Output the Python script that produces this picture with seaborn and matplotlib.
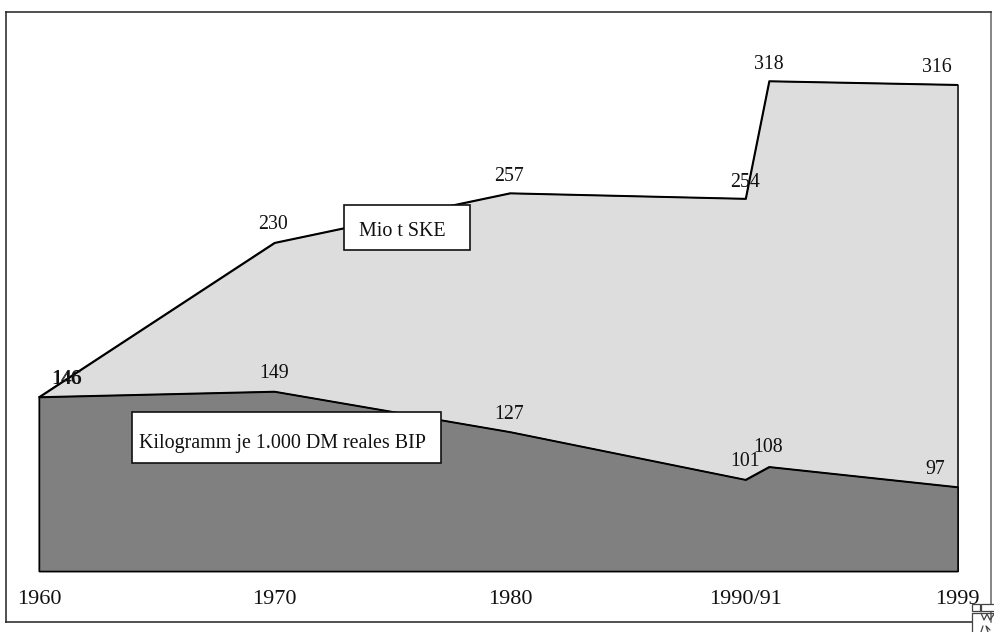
import matplotlib
matplotlib.use('Agg')
import matplotlib.pyplot as plt
from matplotlib.patches import Rectangle
from matplotlib.lines import Line2D
import pandas as pd
import seaborn as sns

years = [1960, 1970, 1980, 1990, 1991, 1999]
mio_t_ske = [146, 230, 257, 254, 318, 316]
kg_je_bip = [146, 149, 127, 101, 108, 97]
tick_years = [1960, 1970, 1980, 1990, 1999]
tick_labels = ['1960', '1970', '1980', '1990/91', '1999']

# label offsets from the point, in pixels
offs_upper = [(27, 18), (-1, 18), (-1, 17), (-1, 16), (0, 17), (-21, 17)]
offs_lower = [(28, 18), (0, 18), (-1, 17), (0, 18), (-1, 19), (-22, 18)]

W, H = 994, 632
BASE = 51.3

sns.set_theme(style='white')
plt.rcParams['font.family'] = ['Liberation Serif']

df = pd.concat([
    pd.DataFrame({'jahr': years, 'wert': mio_t_ske, 'reihe': 'Mio t SKE'}),
    pd.DataFrame({'jahr': years, 'wert': kg_je_bip, 'reihe': 'Kilogramm'}),
])

fig = plt.figure(figsize=(W / 100, H / 100), dpi=100)
ax = fig.add_axes([5.5 / W, 1 - 621.5 / H, 985 / W, 610 / H])


def fx(px):
    return px / W


def fy(py):
    return 1 - py / H


ax.fill_between(years, mio_t_ske, BASE, facecolor='#dddddd', edgecolor='black', linewidth=1.1, zorder=1)
ax.fill_between(years, kg_je_bip, BASE, facecolor='#808080', edgecolor='black', linewidth=1.1, zorder=2)
sns.lineplot(data=df, x='jahr', y='wert', hue='reihe', palette=['black', 'black'],
             linewidth=1.1, legend=False, ax=ax, zorder=3)

ax.set_xlim(1958.58, 2000.40)
ax.set_ylim(23.8, 355.85)
ax.set_xlabel('')
ax.set_ylabel('')
ax.set_yticks([])
ax.set_xticks(tick_years)
ax.set_xticklabels(tick_labels, fontsize=16, color='#111111')
ax.tick_params(axis='x', direction='in', length=0, pad=-22.8)

for s in ax.spines.values():
    s.set_linewidth(1.1)
    s.set_color('#222222')
ax.spines['right'].set_color('#666666')
ax.spines['bottom'].set_bounds(1958.58, 1999.6)

for vals, offs in [(mio_t_ske, offs_upper), (kg_je_bip, offs_lower)]:
    for x, v, (dx, dy) in zip(years, vals, offs):
        ax.annotate(str(v), (x, v), xytext=(dx * 0.72, dy * 0.72), textcoords='offset points',
                    ha='center', va='center', fontsize=14.3, color='#111111', zorder=6)

# label boxes
for x0, y0, x1, y1, tx, txt in [(344, 205, 470, 250, 359, 'Mio t SKE'),
                                (132, 412, 441, 463, 139, 'Kilogramm je 1.000 DM reales BIP')]:
    fig.add_artist(Rectangle((fx(x0), fy(y1)), fx(x1 - x0), y1 / H - y0 / H, transform=fig.transFigure,
                             facecolor='white', edgecolor='#111111', linewidth=1.2, zorder=5))
    t = fig.text(fx(tx), fy((y0 + y1) / 2 + (6 if y0 > 300 else 4)), txt, fontsize=14.4, color='#111111',
                 ha='left', va='center', zorder=6)

# small broken glyph in the lower right corner
for x0, y0, x1, y1 in [(972, 604, 980, 611), (981, 604, 995, 611)]:
    fig.add_artist(Rectangle((fx(x0), fy(y1)), fx(x1 - x0), y1 / H - y0 / H, transform=fig.transFigure,
                             facecolor='white', edgecolor='#444444', linewidth=0.9, zorder=7))
for xs, ys in [([972, 972, 980], [632, 613, 613]), ([981, 994], [613, 613]),
               ([981, 984, 987, 990, 994], [613, 620, 614, 620, 614]),
               ([981, 983], [632, 626]), ([988, 986, 990], [632, 626, 630])]:
    fig.add_artist(Line2D([fx(x) for x in xs], [fy(y) for y in ys], transform=fig.transFigure,
                          color='#444444', linewidth=0.9, zorder=7))

fig.savefig('out.png', dpi=100, facecolor='white')
